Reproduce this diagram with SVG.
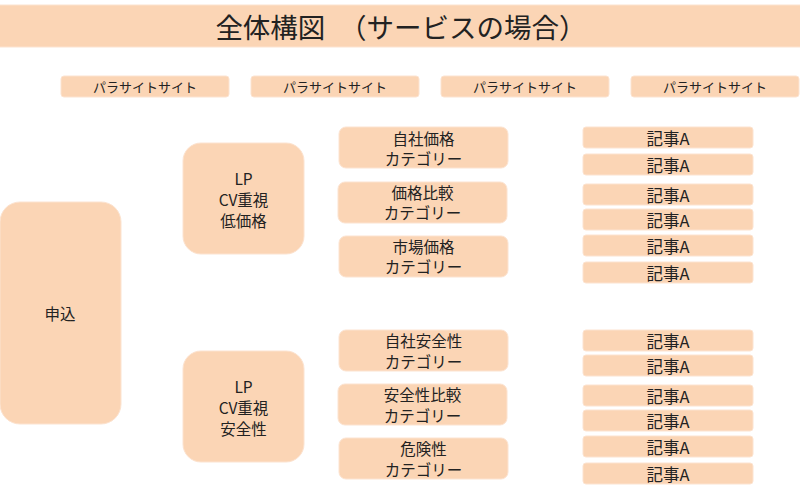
<svg xmlns="http://www.w3.org/2000/svg" width="800" height="493" viewBox="0 0 800 493">
<style>
.b{fill:#FBD5B5;stroke:#FCE3D0;stroke-width:1}
.t{font-family:"Noto Sans CJK JP","Noto Sans",sans-serif;fill:#222;text-anchor:middle;dominant-baseline:central}
.s13{font-size:13px}
.s14{font-size:16.5px}
.s15{font-size:15.5px}
</style>
<rect width="800" height="493" fill="#fff"/>
<g id="title">
<rect class="b" x="-2" y="5" width="804" height="42"/>
<text class="t" x="401" y="26" style="font-size:27.5px">全体構図　（サービスの場合）</text>
</g>
<g id="parasite1"><rect class="b" x="61" y="76" width="168" height="21" rx="3"/><text class="t s13" x="145" y="86.5">パラサイトサイト</text></g>
<g id="parasite2"><rect class="b" x="251" y="76" width="168" height="21" rx="3"/><text class="t s13" x="335" y="86.5">パラサイトサイト</text></g>
<g id="parasite3"><rect class="b" x="441" y="76" width="168" height="21" rx="3"/><text class="t s13" x="525" y="86.5">パラサイトサイト</text></g>
<g id="parasite4"><rect class="b" x="631" y="76" width="168" height="21" rx="3"/><text class="t s13" x="715" y="86.5">パラサイトサイト</text></g>
<g id="apply"><rect class="b" x="0" y="202" width="121" height="222" rx="20"/><text class="t s15" x="60" y="313">申込</text></g>
<g id="lp1"><rect class="b" x="183" y="143" width="121" height="111" rx="18"/>
<text class="t s15" x="243.5" y="178">LP</text><text class="t s15" x="243.5" y="199">CV重視</text><text class="t s15" x="243.5" y="220">低価格</text></g>
<g id="lp2"><rect class="b" x="183" y="351" width="121" height="111" rx="18"/>
<text class="t s15" x="243.5" y="386">LP</text><text class="t s15" x="243.5" y="407">CV重視</text><text class="t s15" x="243.5" y="428">安全性</text></g>
<g id="cat1"><rect class="b" x="339" y="127" width="169" height="41" rx="7"/><text class="t s15" x="423.5" y="137.5">自社価格</text><text class="t s15" x="423.5" y="158">カテゴリー</text></g>
<g id="cat2"><rect class="b" x="338" y="182" width="169" height="41" rx="7"/><text class="t s15" x="422.5" y="191.5">価格比較</text><text class="t s15" x="422.5" y="212">カテゴリー</text></g>
<g id="cat3"><rect class="b" x="339" y="236" width="169" height="41" rx="7"/><text class="t s15" x="423.5" y="245.5">市場価格</text><text class="t s15" x="423.5" y="266">カテゴリー</text></g>
<g id="cat4"><rect class="b" x="339" y="330" width="169" height="41" rx="7"/><text class="t s15" x="423.5" y="340">自社安全性</text><text class="t s15" x="423.5" y="360.5">カテゴリー</text></g>
<g id="cat5"><rect class="b" x="338" y="384" width="169" height="41" rx="7"/><text class="t s15" x="422.5" y="394">安全性比較</text><text class="t s15" x="422.5" y="414.5">カテゴリー</text></g>
<g id="cat6"><rect class="b" x="339" y="438" width="169" height="41" rx="7"/><text class="t s15" x="423.5" y="448">危険性</text><text class="t s15" x="423.5" y="468.5">カテゴリー</text></g>
<g id="art1"><rect class="b" x="583" y="127" width="170" height="21" rx="3"/><text class="t s14" x="668" y="137.5">記事A</text></g>
<g id="art2"><rect class="b" x="583" y="154" width="170" height="21" rx="3"/><text class="t s14" x="668" y="164.5">記事A</text></g>
<g id="art3"><rect class="b" x="583" y="184" width="170" height="21" rx="3"/><text class="t s14" x="668" y="194.5">記事A</text></g>
<g id="art4"><rect class="b" x="583" y="209" width="170" height="21" rx="3"/><text class="t s14" x="668" y="219.5">記事A</text></g>
<g id="art5"><rect class="b" x="583" y="235" width="170" height="21" rx="3"/><text class="t s14" x="668" y="245.5">記事A</text></g>
<g id="art6"><rect class="b" x="583" y="262" width="170" height="21" rx="3"/><text class="t s14" x="668" y="272.5">記事A</text></g>
<g id="art7"><rect class="b" x="583" y="330" width="170" height="21" rx="3"/><text class="t s14" x="668" y="340.5">記事A</text></g>
<g id="art8"><rect class="b" x="583" y="355" width="170" height="21" rx="3"/><text class="t s14" x="668" y="365.5">記事A</text></g>
<g id="art9"><rect class="b" x="583" y="385" width="170" height="21" rx="3"/><text class="t s14" x="668" y="395.5">記事A</text></g>
<g id="art10"><rect class="b" x="583" y="410" width="170" height="21" rx="3"/><text class="t s14" x="668" y="420.5">記事A</text></g>
<g id="art11"><rect class="b" x="583" y="436" width="170" height="21" rx="3"/><text class="t s14" x="668" y="446.5">記事A</text></g>
<g id="art12"><rect class="b" x="583" y="463" width="170" height="21" rx="3"/><text class="t s14" x="668" y="473.5">記事A</text></g>
<g id="connectors"/>
</svg>
